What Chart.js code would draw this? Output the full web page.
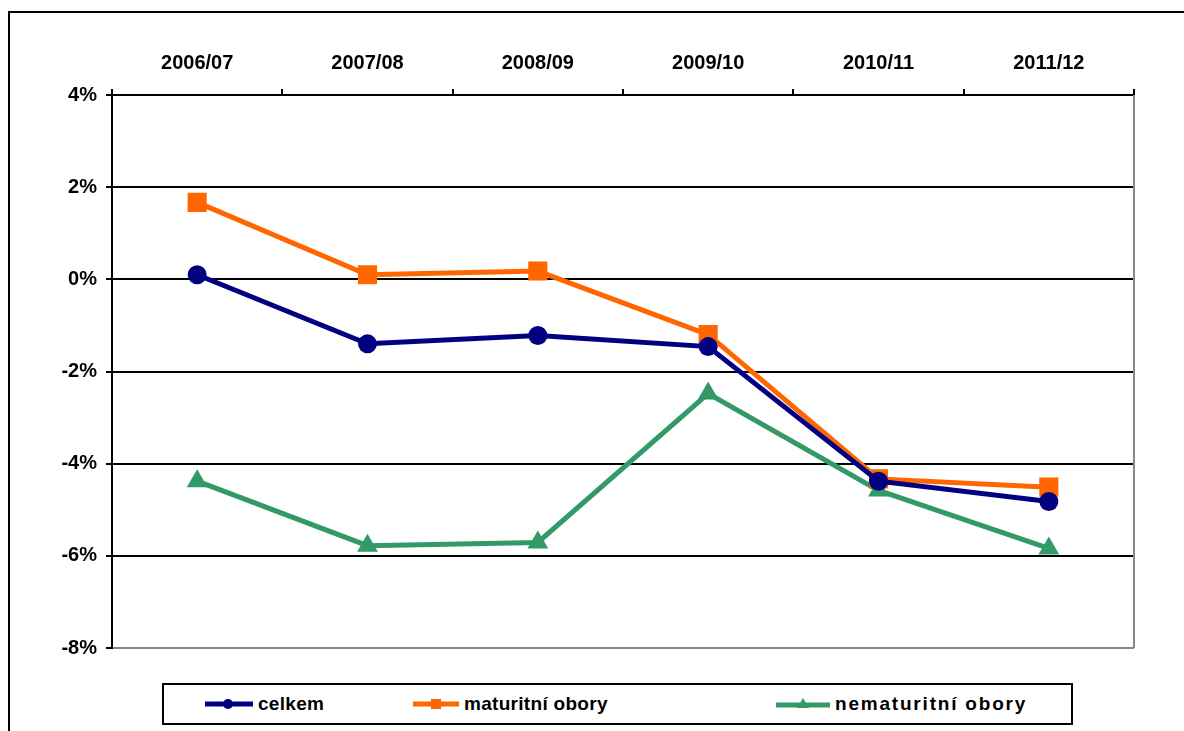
<!DOCTYPE html>
<html>
<head>
<meta charset="utf-8">
<script src="https://cdn.jsdelivr.net/npm/chart.js@4/dist/chart.umd.min.js"></script>
<style>
  body { margin: 0; background: #fff; font-family: "Liberation Sans", Arial, sans-serif; }
  #wrap { position: absolute; left: 0; top: 0; width: 1184px; height: 731px; overflow: hidden; }
  #frame { position: absolute; left: 8px; top: 11px; width: 1300px; height: 900px;
           border-left: 2px solid #000; border-top: 2px solid #000; }
  #box { position: absolute; left: 0; top: 0; width: 1184px; height: 731px; }
  #legend { position: absolute; left: 162px; top: 683px; width: 907px; height: 38px;
            border: 2px solid #000; background: #fff; }
  .item { position: absolute; top: 0; height: 38px; display: flex; align-items: center;
          font-weight: bold; font-size: 19px; color: #000; letter-spacing: 0.3px; }
  .item svg { margin-right: 5px; }
</style>
</head>
<body>
<div id="wrap">
  <div id="frame"></div>
  <div id="box"><canvas id="myChart"></canvas></div>
  <div id="legend">
    <div class="item" style="left:41px">
      <svg width="48" height="12"><line x1="0" y1="6" x2="48" y2="6" stroke="#000080" stroke-width="5"/><circle cx="23" cy="6" r="5" fill="#000080"/></svg>celkem
    </div>
    <div class="item" style="left:249px">
      <svg width="46" height="12"><line x1="0" y1="6" x2="46" y2="6" stroke="#FF6600" stroke-width="5"/><rect x="18" y="1" width="10" height="10" fill="#FF6600"/></svg>maturitní obory
    </div>
    <div class="item" style="left:612px; letter-spacing: 1.8px">
      <svg width="54" height="12"><line x1="0" y1="7" x2="54" y2="7" stroke="#339966" stroke-width="5"/><polygon points="27,0 33,10 21,10" fill="#339966"/></svg>nematuritní obory
    </div>
  </div>
</div>
<script>
const years = ['2006/07', '2007/08', '2008/09', '2009/10', '2010/11', '2011/12']
const celkem = [0.10, -1.40, -1.22, -1.46, -4.38, -4.82]
const maturitni = [1.67, 0.10, 0.18, -1.20, -4.33, -4.51]
const nematuritni = [-4.38, -5.78, -5.71, -2.48, -4.58, -5.84]
const yTicks = [-8, -6, -4, -2, 0, 2, 4]

const tickFont = { family: 'Liberation Sans', size: 20, weight: 'bold' }

const plotBorder = {
  id: 'plotBorder',
  afterDatasetsDraw( chart ) {
    const { ctx, chartArea } = chart
    ctx.save()
    ctx.strokeStyle = '#888'
    ctx.lineWidth = 2
    ctx.beginPath()
    ctx.moveTo( chartArea.right, chartArea.top )
    ctx.lineTo( chartArea.right, chartArea.bottom )
    ctx.stroke()
    ctx.restore()
  }
}

const ctx = document.getElementById('myChart').getContext('2d')

new Chart( ctx, {
  type: 'line',
  data: {
    labels: years,
    datasets: [
      {
        label: 'celkem',
        data: celkem,
        borderColor: '#000080',
        backgroundColor: '#000080',
        borderWidth: 5,
        pointStyle: 'circle',
        pointRadius: 9.5,
        pointBorderWidth: 0,
        tension: 0
      },
      {
        label: 'maturitní obory',
        data: maturitni,
        borderColor: '#FF6600',
        backgroundColor: '#FF6600',
        borderWidth: 5,
        pointStyle: 'rect',
        pointRadius: 13.5,
        pointBorderWidth: 0,
        tension: 0
      },
      {
        label: 'nematuritní obory',
        data: nematuritni,
        borderColor: '#339966',
        backgroundColor: '#339966',
        borderWidth: 5,
        pointStyle: 'triangle',
        pointRadius: 12,
        pointBorderWidth: 0,
        tension: 0
      }
    ]
  },
  options: {
    responsive: true,
    maintainAspectRatio: false,
    animation: false,
    layout: { padding: { left: 0, right: 50, top: 0, bottom: 83 } },
    plugins: { legend: { display: false }, tooltip: { enabled: false } },
    scales: {
      x: {
        position: 'top',
        offset: true,
        afterFit: scale => { scale.height = 95 },
        border: { display: true, color: '#000', width: 2 },
        grid: { offset: true, drawOnChartArea: false, color: '#000', lineWidth: 2, tickLength: 6 },
        ticks: { font: tickFont, color: '#000', padding: 14, maxRotation: 0 }
      },
      y: {
        min: -8,
        max: 4,
        afterFit: scale => { scale.width = 112 },
        afterBuildTicks: scale => { scale.ticks = yTicks.map( v => ({ value: v }) ) },
        border: { display: true, color: '#000', width: 2 },
        grid: {
          color: c => c.tick && c.tick.value === -8 ? '#888' : '#000',
          tickColor: '#000',
          lineWidth: 2,
          tickLength: 6
        },
        ticks: { font: tickFont, color: '#000', padding: 9, callback: v => v + '%' }
      }
    }
  },
  plugins: [ plotBorder ]
})
</script>
</body>
</html>
